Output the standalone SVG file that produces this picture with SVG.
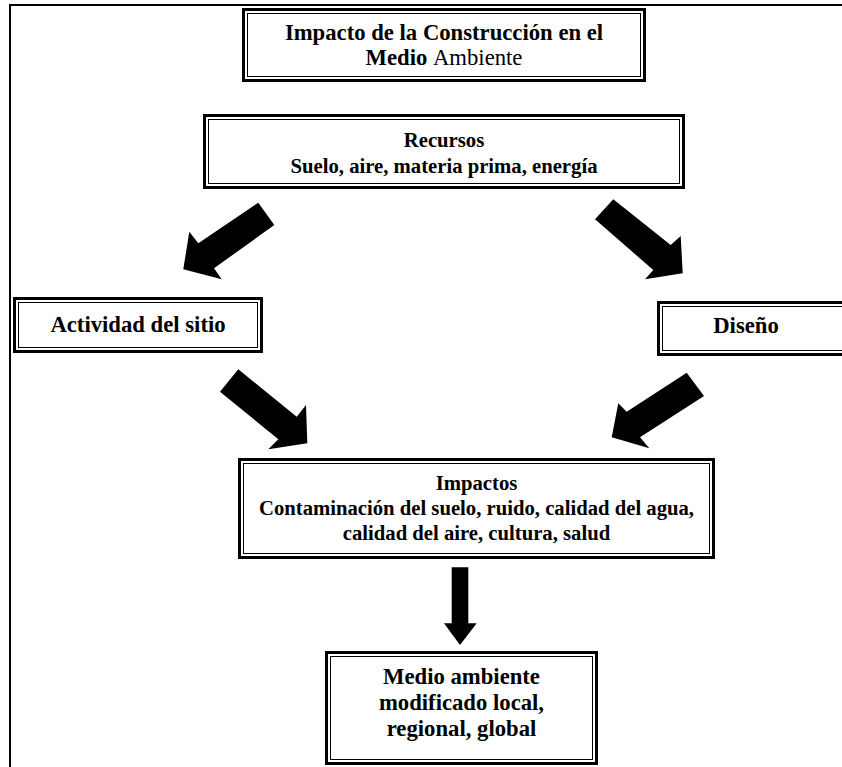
<svg xmlns="http://www.w3.org/2000/svg" width="842" height="767" viewBox="0 0 842 767">
<style>
.o{fill:#fff;stroke:#000;stroke-width:3}
.i{fill:none;stroke:#000;stroke-width:1}
.t{font-family:"Liberation Serif","Times New Roman",serif;font-weight:bold;fill:#000;text-anchor:middle}
.big{font-size:22.7px}
.sm{font-size:20.7px}
.reg{font-weight:normal}
.arr{fill:#000;stroke:none}
</style>
<rect width="842" height="767" fill="#fff"/>
<g id="frame" fill="none" stroke="#000" stroke-width="2">
<line x1="10" y1="5" x2="842" y2="5"/>
<line x1="10" y1="4" x2="10" y2="767"/>
</g>
<g id="title">
<rect class="o" x="243.5" y="9.5" width="401" height="71"/>
<rect class="i" x="247.5" y="13.5" width="393" height="63"/>
<text class="t big" x="444" y="40">Impacto de la Construcción en el</text>
<text class="t big" x="444" y="65">Medio <tspan class="reg">Ambiente</tspan></text>
</g>
<g id="recursos">
<rect class="o" x="204.5" y="115.5" width="479" height="72"/>
<rect class="i" x="208.5" y="119.5" width="471" height="64"/>
<text class="t sm" x="444" y="147">Recursos</text>
<text class="t sm" x="444" y="173">Suelo, aire, materia prima, energía</text>
</g>
<g id="actividad">
<rect class="o" x="14.5" y="298.5" width="247" height="53"/>
<rect class="i" x="18.5" y="302.5" width="239" height="45"/>
<text class="t big" x="138" y="332">Actividad del sitio</text>
</g>
<g id="diseno">
<rect class="o" x="658.5" y="302.5" width="200" height="52"/>
<rect class="i" x="662.5" y="306.5" width="192" height="44"/>
<text class="t big" x="746" y="333">Diseño</text>
</g>
<g id="impactos">
<rect class="o" x="239.5" y="459.5" width="474" height="98"/>
<rect class="i" x="243.5" y="463.5" width="466" height="90"/>
<text class="t sm" x="476.5" y="490">Impactos</text>
<text class="t sm" x="476.5" y="515">Contaminación del suelo, ruido, calidad del agua,</text>
<text class="t sm" x="476.5" y="540">calidad del aire, cultura, salud</text>
</g>
<g id="medio">
<rect class="o" x="326.5" y="652.5" width="270" height="111"/>
<rect class="i" x="330.5" y="656.5" width="262" height="103"/>
<text class="t big" x="461.5" y="684">Medio ambiente</text>
<text class="t big" x="461.5" y="710">modificado local,</text>
<text class="t big" x="461.5" y="736">regional, global</text>
</g>
<g id="connectors">
<polygon class="arr" points="258.3,202.7 274.3,225 214,268.3 221.7,279.3 183.3,269.3 189.3,231.7 198.3,243.3"/>
<polygon class="arr" points="613.3,199.3 670.7,245 680.7,236 682.7,273.3 645,279.3 653.3,270 595,219.3"/>
<polygon class="arr" points="238.3,369.3 296.7,416.7 306,405 307.3,443.3 268.3,449.3 278.3,439.3 220,391.7"/>
<polygon class="arr" points="686.7,372.7 704,396 640,437.3 649.3,448.3 611.7,437.3 618.3,403.3 626.7,411.7"/>
<polygon class="arr" points="451.7,567.3 468.3,567.3 468.3,623.3 476.7,623.3 460,645 444,623.3 451.7,623.3"/>
</g>
</svg>
